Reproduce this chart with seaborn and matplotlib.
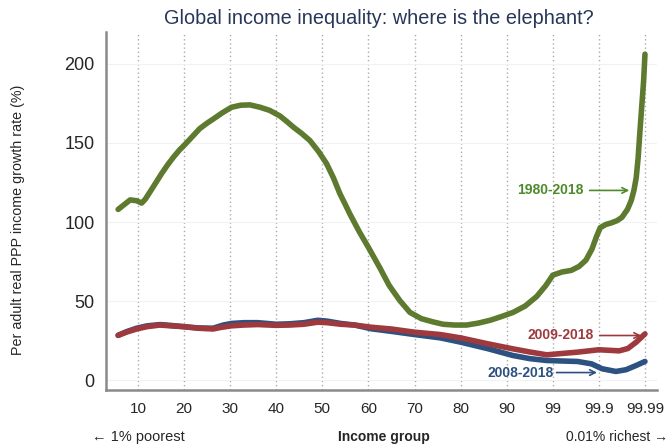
import pandas as pd
import matplotlib
matplotlib.use("Agg")
import matplotlib.pyplot as plt
import seaborn as sns

# Income group positions (99 -> 100, 99.9 -> 110, 99.99 -> 120 on the axis)
tick_pos = [10, 20, 30, 40, 50, 60, 70, 80, 90, 100, 110, 120]
tick_labels = ["10", "20", "30", "40", "50", "60", "70", "80", "90", "99", "99.9", "99.99"]

# 1980-2018 growth (%)
g_x = [5.7, 7.0, 8.3, 9.7, 10.8, 11.6, 12.6, 13.8, 15.1, 16.4, 17.7, 19.0, 20.2, 21.8,
       23.4, 25.0, 26.3, 28.3, 30.3, 32.3, 34.3, 36.5, 38.6, 40.8, 42.3, 43.7, 45.5,
       47.3, 49.2, 50.9, 52.4, 53.8, 55.0, 56.0, 58.0, 60.0, 62.5, 64.5, 66.8, 69.0,
       71.5, 74.0, 76.2, 78.7, 81.3, 83.8, 86.4, 89.0, 91.4, 94.0, 96.5, 98.5, 100.0,
       102.0, 104.0, 105.7, 107.2, 108.5, 109.5, 110.3, 111.5, 112.7, 114.0, 115.0,
       116.2, 117.0, 117.6, 118.1, 118.5, 118.9, 119.3, 119.7, 120.0]
g_y = [108, 111, 114, 113.5, 112, 114.5, 119, 124.5, 130.5, 136, 141, 145.5, 149, 154,
       159, 162.5, 165, 169, 172.5, 173.8, 174, 172.5, 170.5, 167, 163.5, 160, 156,
       151.5, 144.5, 137, 128, 118, 111, 105, 94, 84, 71, 60, 50.5, 43,
       39, 37, 35.5, 35, 35, 36.2, 38, 40.5, 43, 47, 53, 60, 66.5,
       68.5, 69.5, 72, 76, 83, 91, 96.5, 98.5, 99.5, 101, 103,
       108, 113.5, 120, 128, 140, 157, 173, 189, 206]

# 2009-2018 growth (%)
r_x = [5.7, 7.5, 9.7, 12.0, 14.8, 17.0, 19.8, 23.0, 26.3, 28.0, 30.3, 33.0, 36.0, 40.0,
       43.0, 46.0, 49.0, 51.0, 54.0, 57.0, 60.7, 65.0, 70.0, 75.6, 80.0, 86.0, 91.3,
       95.0, 98.7, 101.0, 105.4, 110.0, 114.4, 116.3, 118.1, 120.0]
r_y = [28.5, 30.5, 32.5, 34, 35, 34.5, 34, 33, 32.5, 33.5, 34.5, 35, 35.3, 34.8,
       35, 35.5, 36.8, 36.5, 35.5, 35, 33.6, 32.5, 30.5, 29, 26.9, 23.1, 20,
       18, 16.2, 16.8, 17.9, 19.4, 18.7, 20.2, 24.2, 29.4]

# 2008-2018 growth (%)
b_x = [5.7, 7.5, 9.7, 12.0, 14.8, 17.0, 19.8, 23.0, 26.3, 28.5, 30.3, 33.0, 36.0, 40.0,
       43.0, 46.0, 49.0, 51.0, 54.0, 57.0, 60.7, 65.0, 70.0, 75.6, 80.0, 86.0, 91.3,
       95.0, 98.7, 102.0, 105.4, 108.4, 110.7, 113.7, 115.9, 118.1, 120.0]
b_y = [28.5, 30.8, 33, 34.5, 35.3, 34.8, 34, 33.2, 33, 35, 36, 36.5, 36.5, 35.5,
       35.8, 36.5, 38, 37.5, 36, 35, 32.6, 31, 29, 26.9, 24.2, 20, 15.8,
       13.8, 12.6, 12.3, 12, 10.5, 7.4, 5.7, 6.8, 9.5, 12]

green = "#5d7a2f"
red = "#9e3a3d"
blue = "#2d5180"

sns.set_style("white")
plt.rcParams["font.family"] = ["Liberation Sans", "DejaVu Sans"]

fig = plt.figure(figsize=(6.69, 4.48), dpi=100)
ax = fig.add_axes([0.158, 0.1295, 0.824, 0.799])

for x in tick_pos:
    ax.axvline(x, color="#aaaaaa", lw=1, ls=(0, (1, 2)), zorder=0)
for y in [0, 50, 100, 150, 200]:
    ax.axhline(y, color="#f2f2f2", lw=0.8, zorder=0)

sns.lineplot(x=b_x, y=b_y, ax=ax, color=blue, lw=4, sort=False)
sns.lineplot(x=r_x, y=r_y, ax=ax, color=red, lw=4, sort=False)
sns.lineplot(x=g_x, y=g_y, ax=ax, color=green, lw=4, sort=False)

ax.set_xlim(3, 122.6)
ax.set_ylim(-6, 220)
ax.set_xticks(tick_pos)
ax.set_xticklabels(tick_labels)
ax.set_yticks([0, 50, 100, 150, 200])
ax.tick_params(axis="x", length=0, pad=9, labelsize=11)
ax.tick_params(axis="y", length=5, width=0.8, color="#dddddd", pad=3, labelsize=13)

for s in ["top", "right"]:
    ax.spines[s].set_visible(False)
for s in ["left", "bottom"]:
    ax.spines[s].set_color("#8a8a8a")
    ax.spines[s].set_linewidth(1.8)

# series labels with arrows
ax.annotate("", xy=(117.2, 120), xytext=(107.4, 120),
            arrowprops=dict(arrowstyle="->", color="#4d8a2a", lw=1.2))
ax.text(106.6, 120, "1980-2018", color="#4d8a2a", fontsize=10, fontweight="bold",
        ha="right", va="center")
ax.annotate("", xy=(119.8, 28.4), xytext=(109.6, 28.4),
            arrowprops=dict(arrowstyle="->", color=red, lw=1.2))
ax.text(108.8, 28.4, "2009-2018", color=red, fontsize=10, fontweight="bold",
        ha="right", va="center")
ax.annotate("", xy=(110.2, 5), xytext=(100.2, 5),
            arrowprops=dict(arrowstyle="->", color=blue, lw=1.2))
ax.text(100.2, 5, "2008-2018", color=blue, fontsize=10, fontweight="bold",
        ha="right", va="center")

fig.text(0.567, 0.958, "Global income inequality: where is the elephant?",
         ha="center", va="center", fontsize=14.3, color="#27375a")
fig.text(0.027, 0.509, "Per adult real PPP income growth rate (%)", rotation=90,
         ha="center", va="center", fontsize=10.3)
fig.text(0.137, 0.024, "\u2190 1% poorest", ha="left", va="center", fontsize=10.5)
fig.text(0.574, 0.024, "Income group", ha="center", va="center", fontsize=10,
         fontweight="bold")
fig.text(0.998, 0.024, "0.01% richest \u2192", ha="right", va="center", fontsize=10)

fig.savefig("out.png", dpi=100)
